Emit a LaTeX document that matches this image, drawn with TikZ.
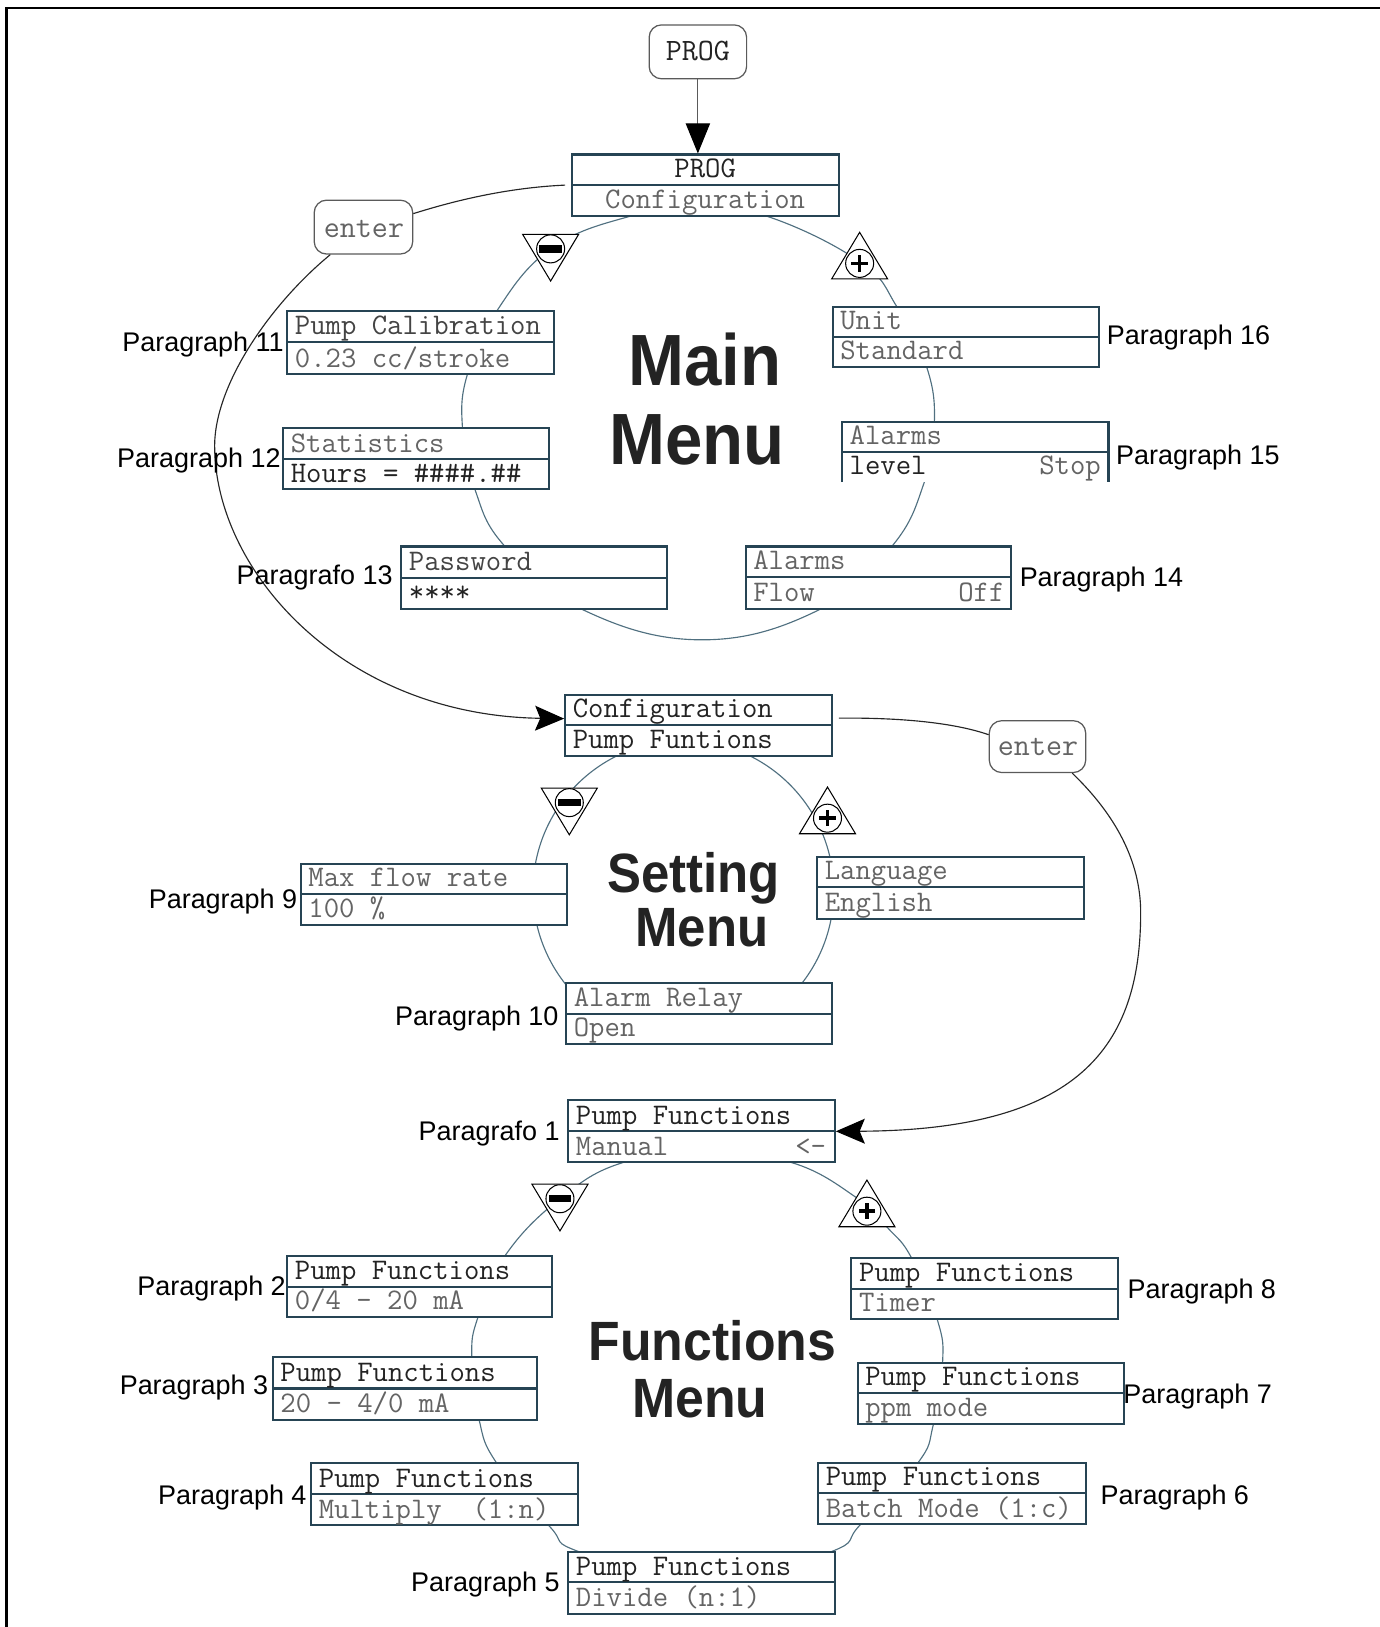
\documentclass[tikz,border=0pt]{standalone}
\usepackage{fontspec}
\setmainfont{Liberation Sans}
\usetikzlibrary{arrows.meta,fit}
\definecolor{boxc}{RGB}{38,68,84}
\definecolor{ringc}{RGB}{80,112,128}
\definecolor{tdark}{RGB}{35,35,35}
\definecolor{tgray}{RGB}{100,100,100}
\definecolor{rboxc}{RGB}{90,90,90}
\tikzset{
 lcdbox/.style={draw=boxc, fill=white, line width=1pt, inner sep=0pt},
 lcdline/.style={draw=boxc, line width=1pt},
 tt/.style={font=\fontsize{14.4}{14.4}\selectfont\ttfamily, text=tgray, inner sep=0pt},
 ttbig/.style={font=\fontsize{15}{15}\selectfont\ttfamily, text=tgray, inner sep=0pt},
 lbl/.style={font=\fontsize{13}{13}\selectfont, text=black, inner sep=0pt},
 ttlA/.style={font=\fontsize{35}{35}\selectfont\bfseries, text=tdark, inner sep=0pt},
 ttlB/.style={font=\fontsize{26.7}{26.7}\selectfont\bfseries, text=tdark, inner sep=0pt},
 rbox/.style={draw=rboxc, fill=white, line width=0.6pt, rounded corners=6pt, inner sep=0pt},
 ringline/.style={draw=ringc, line width=0.55pt},
 conn/.style={draw=black!85, line width=0.55pt},
 symb/.style={draw=black, line width=0.5pt, fill=white},
}
% LCD style box: name, x1, y1, x2, y2, ydiv, top text, bottom text, extra options
\newcommand\lcd[9]{%
  \node[lcdbox, #9, fit={(#2,#3)(#4,#5)}] (#1) {};
  \draw[lcdline] (#2,#6) -- (#4,#6);
  \node[tt, anchor=base west] (#1t) at ({#2+7},{#6-7}) {#7};
  \node[tt, anchor=base west] (#1b) at ({#2+7},{#5-7}) {#8};
}
\newcommand\minustri[2]{%
  \draw[symb] ({#1-27},{#2-14}) -- ({#1+27},{#2-14}) -- (#1,{#2+31}) -- cycle;
  \draw[symb] (#1,#2) circle[radius=6.75pt];
  \fill[black] ({#1-11},{#2-3.5}) rectangle ({#1+11},{#2+3.5});
}
\newcommand\plustri[2]{%
  \draw[symb] (#1,{#2-30}) -- ({#1-27},{#2+15}) -- ({#1+27},{#2+15}) -- cycle;
  \draw[symb] (#1,#2) circle[radius=6.75pt];
  \fill[black] ({#1-8},{#2-1.7}) rectangle ({#1+8},{#2+1.7});
  \fill[black] ({#1-1.7},{#2-8}) rectangle ({#1+1.7},{#2+8});
}
\begin{document}
\begin{tikzpicture}[x=0.5pt,y=-0.5pt]
\useasboundingbox (0,0) rectangle (1330,1569);
% frame
\draw[line width=1.2pt] (6.5,1580) -- (6.5,7.5) -- (1340,7.5);

% ---------- rings ----------
\draw[ringline] plot[smooth cycle, tension=0.7] coordinates {(673,200) (741,209) (830,253) (865,296) (894,355) (901,410) (891,466) (860,527) (790,588) (676,617) (560,587) (487,527) (458,472) (446,413) (451,360) (479,300) (531,240) (606,209)};
\draw[ringline] (659,859) circle[radius=72.5pt];
\draw[ringline] plot[smooth cycle, tension=0.7] coordinates {(681,1112) (763,1121) (826,1155) (856,1184) (879,1213) (904,1273) (909,1314) (900,1374) (885,1411) (830,1470) (800,1497) (681,1528) (560,1497) (530,1472) (479,1411) (462,1369) (455,1309) (461,1270) (487,1211) (540,1156) (601,1121)};

% ---------- top ----------
\node[rbox, fit={(626,24)(720,76)}] (prog) {};
\node[ttbig, anchor=base] (progt) at (673,58) {\color{tdark}PROG};

\node[lcdbox, fit={(552,149)(809,208)}] (cfg) {};
\draw[lcdline] (552,178) -- (809,178);
\node[tt, anchor=base] (cfgt) at (680,171) {\color{tdark}PROG};
\node[tt, anchor=base] (cfgb) at (680,201) {Configuration};

\node[rbox, fit={(303,193)(398,245)}] (enterA) {};
\node[ttbig, anchor=base] (enterAt) at (351,229) {enter};

% ---------- main menu ----------
\lcd{pcal}{277}{300}{534}{361}{330}{\color{tdark!85}Pump Calibration}{0.23 cc/stroke}{}
\lcd{stat}{273}{413}{529}{472}{443}{Statistics}{\color{tdark}Hours = \#\#\#\#.\#\#}{}
\lcd{pwd}{387}{527}{643}{587}{557}{\color{tdark!85}Password}{\color{tdark}****}{}
\lcd{unit}{803}{296}{1060}{354}{325}{Unit}{Standard}{}
\lcd{alvl}{812}{407}{1069}{465}{436}{Alarms}{\color{tdark}level}{draw=none}
\draw[lcdline] (812,465) -- (812,407) -- (1069,407) -- (1069,465);
\node[tt, anchor=base east] (alvlr) at (1062,458) {Stop};
\lcd{aflw}{719}{527}{975}{587}{556}{Alarms}{Flow}{}
\node[tt, anchor=base east] (aflwr) at (969,580) {Off};

\minustri{531}{240}
\plustri{829}{254}

% ---------- setting menu ----------
\lcd{cfgB}{545}{670}{802}{729}{699}{\color{tdark}Configuration}{\color{tdark}Pump Funtions}{}
\node[rbox, fit={(954,695)(1047,745)}] (enterB) {};
\node[ttbig, anchor=base] (enterBt) at (1001,729) {enter};
\lcd{maxf}{290}{833}{547}{892}{862}{Max flow rate}{100 \%}{}
\lcd{lang}{788}{826}{1045}{886}{855}{Language}{English}{}
\lcd{arel}{546}{948}{802}{1007}{978}{Alarm Relay}{Open}{}

\minustri{549}{774}
\plustri{798}{789}

% ---------- functions menu ----------
\lcd{pfA}{548}{1061}{805}{1121}{1091}{\color{tdark}Pump Functions}{Manual}{}
\node[tt, anchor=base east] (pfAr) at (797,1114) {<-};
\lcd{pfB}{277}{1211}{532}{1270}{1241}{\color{tdark}Pump Functions}{0/4 - 20 mA}{}
\lcd{pfC}{263}{1309}{518}{1369}{1339}{\color{tdark}Pump Functions}{20 - 4/0 mA}{}
\lcd{pfD}{300}{1411}{557}{1471}{1441}{\color{tdark}Pump Functions}{Multiply\ \ (1:n)}{}
\lcd{pfE}{548}{1497}{805}{1556}{1526}{\color{tdark}Pump Functions}{Divide (n:1)}{}
\lcd{pfF}{789}{1411}{1047}{1470}{1440}{\color{tdark}Pump Functions}{Batch Mode (1:c)}{}
\lcd{pfG}{827}{1314}{1084}{1373}{1343}{\color{tdark}Pump Functions}{ppm mode}{}
\lcd{pfH}{821}{1213}{1078}{1272}{1243}{\color{tdark}Pump Functions}{Timer}{}

\minustri{540}{1156}
\plustri{836}{1168}

% ---------- connectors ----------
\draw[conn, draw=rboxc, -{Triangle[length=14.5pt,width=11.7pt,black]}] (prog.south) -- (prog.south |- cfg.north);
\draw[conn] ([yshift=6.5pt]enterA.east) .. controls (440,193) and (490,181) .. ([xshift=-3pt]cfg.west);
\coordinate (lm) at (207,430);
\draw[conn, -{Stealth[length=14pt,width=12pt,inset=2.5pt,black]}] ([xshift=-16pt]enterA.south) .. controls (262,292) and (207,370) .. (lm) .. controls (207,550) and (330,690) .. ([yshift=3.25pt]cfgB.west);
\draw[conn] ([xshift=3pt,yshift=3.5pt]cfgB.east) .. controls (870,692) and (920,697) .. ([yshift=5.75pt]enterB.west);
\coordinate (rm) at (1100,880);
\draw[conn, -{Stealth[length=14pt,width=12pt,inset=2.5pt,black]}] ([xshift=16.75pt]enterB.south) .. controls (1075,785) and (1100,830) .. (rm) .. controls (1100,1010) and (1040,1090) .. (pfA.east);

% ---------- labels ----------
\node[lbl, anchor=base east] (l11) at (274,339) {Paragraph 11};
\node[lbl, anchor=base east] (l12) at (271,451) {Paragraph 12};
\node[lbl, anchor=base east] (l13) at (379,564) {Paragrafo 13};
\node[lbl, anchor=base west] (l16) at (1067,332) {Paragraph 16};
\node[lbl, anchor=base west] (l15) at (1076,448) {Paragraph 15};
\node[lbl, anchor=base west] (l14) at (983,566) {Paragraph 14};
\node[lbl, anchor=base east] (l9) at (287,876) {Paragraph 9};
\node[lbl, anchor=base east] (l10) at (539,989) {Paragraph 10};
\node[lbl, anchor=base east] (l1) at (540,1100) {Paragrafo 1};
\node[lbl, anchor=base east] (l2) at (276,1249) {Paragraph 2};
\node[lbl, anchor=base east] (l3) at (259,1345) {Paragraph 3};
\node[lbl, anchor=base east] (l4) at (296,1451) {Paragraph 4};
\node[lbl, anchor=base east] (l5) at (540,1535) {Paragraph 5};
\node[lbl, anchor=base west] (l8) at (1087,1252) {Paragraph 8};
\node[lbl, anchor=base west] (l7) at (1083,1353) {Paragraph 7};
\node[lbl, anchor=base west] (l6) at (1061,1451) {Paragraph 6};

% ---------- titles ----------
\node[ttlA, anchor=base] (mainA) at (680,372) {\scalebox{0.925}[1]{Main}};
\node[ttlA, anchor=base] (mainB) at (672,448) {\scalebox{0.925}[1]{Menu}};
\node[ttlB, anchor=base] (setA) at (669,861) {\scalebox{0.92}[1]{Setting}};
\node[ttlB, anchor=base] (setB) at (677,913) {\scalebox{0.92}[1]{Menu}};
\node[ttlB, anchor=base] (funA) at (687,1312) {\scalebox{0.935}[1]{Functions}};
\node[ttlB, anchor=base] (funB) at (675,1367) {\scalebox{0.935}[1]{Menu}};
\end{tikzpicture}
\end{document}
